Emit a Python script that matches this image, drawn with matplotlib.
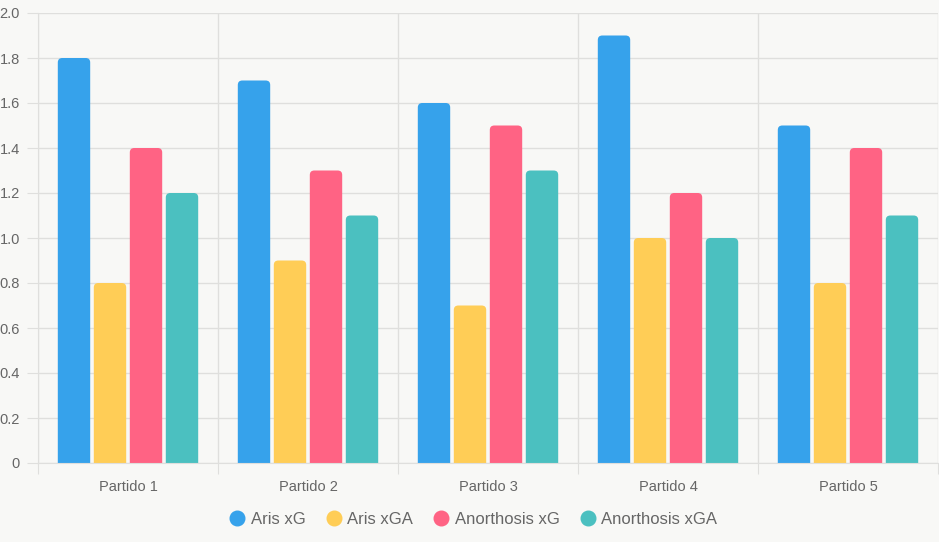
import numpy as np
import matplotlib.pyplot as plt
from matplotlib.patches import FancyBboxPatch
from matplotlib.lines import Line2D

plt.rcParams['font.family'] = ['Liberation Sans', 'DejaVu Sans']

partidos = ['Partido 1', 'Partido 2', 'Partido 3', 'Partido 4', 'Partido 5']
aris_xg = [1.8, 1.7, 1.6, 1.9, 1.5]
aris_xga = [0.8, 0.9, 0.7, 1.0, 0.8]
anor_xg = [1.4, 1.3, 1.5, 1.2, 1.4]
anor_xga = [1.2, 1.1, 1.3, 1.0, 1.1]
series = [('Aris xG', aris_xg, '#36a2eb'),
          ('Aris xGA', aris_xga, '#ffcd56'),
          ('Anorthosis xG', anor_xg, '#ff6384'),
          ('Anorthosis xGA', anor_xga, '#4bc0c0')]
yticks = [0, 0.2, 0.4, 0.6, 0.8, 1.0, 1.2, 1.4, 1.6, 1.8, 2.0]

bg = '#f8f8f6'
grid_c = '#dfdfdd'
txt_c = '#666666'

fig = plt.figure(figsize=(9.39, 5.42), dpi=100, facecolor=bg)
ax = fig.add_axes([38 / 939, 79 / 542, 900 / 939, 450 / 542], facecolor=bg)

x = np.arange(len(partidos)) + 0.5
slot = 0.8 / len(series)
bw = slot * 0.9
for i, (name, vals, col) in enumerate(series):
    pos = x - 0.4 + slot * (i + 0.5)
    bars = ax.bar(pos, vals, width=bw, color=col)
    for r in bars:
        r.remove()
        p = FancyBboxPatch((r.get_x(), -0.05), r.get_width(), r.get_height() + 0.05,
                           boxstyle='round,pad=0,rounding_size=0.025',
                           mutation_aspect=0.8, facecolor=col, edgecolor='none',
                           zorder=2)
        ax.add_patch(p)

ax.set_xlim(0, len(partidos))
ax.set_ylim(0, 2.0)
ax.set_xticks(np.arange(len(partidos) + 1))
ax.set_xticklabels([])
ax.set_xticks(x, minor=True)
ax.set_xticklabels(partidos, minor=True)
ax.tick_params(axis='x', which='major', length=8, color=grid_c)
ax.tick_params(axis='x', which='minor', length=0, pad=12, labelsize=10.5, labelcolor=txt_c)
ax.set_yticks(yticks)
ax.set_yticklabels(['0'] + [f'{v:.1f}' for v in yticks[1:]])
ax.tick_params(axis='y', length=8, color=grid_c, pad=5, labelsize=10.5, labelcolor=txt_c)
ax.grid(True, which='major', color=grid_c, linewidth=1, zorder=0)
ax.set_axisbelow(True)
for s in ['top', 'right']:
    ax.spines[s].set_visible(False)
for s in ['left', 'bottom']:
    ax.spines[s].set_color(grid_c)

handles = [Line2D([], [], marker='o', linestyle='none', markersize=10.5,
                  markerfacecolor=c, markeredgecolor=c) for _, _, c in series]
fig.legend(handles, [n for n, _, _ in series], loc='center', ncol=4,
           bbox_to_anchor=(473 / 939, 1 - 519 / 542), frameon=False,
           fontsize=12, labelcolor=txt_c, handletextpad=0.3, columnspacing=1.2,
           handlelength=1.0)

fig.savefig('out.png', dpi=100, facecolor=bg)
